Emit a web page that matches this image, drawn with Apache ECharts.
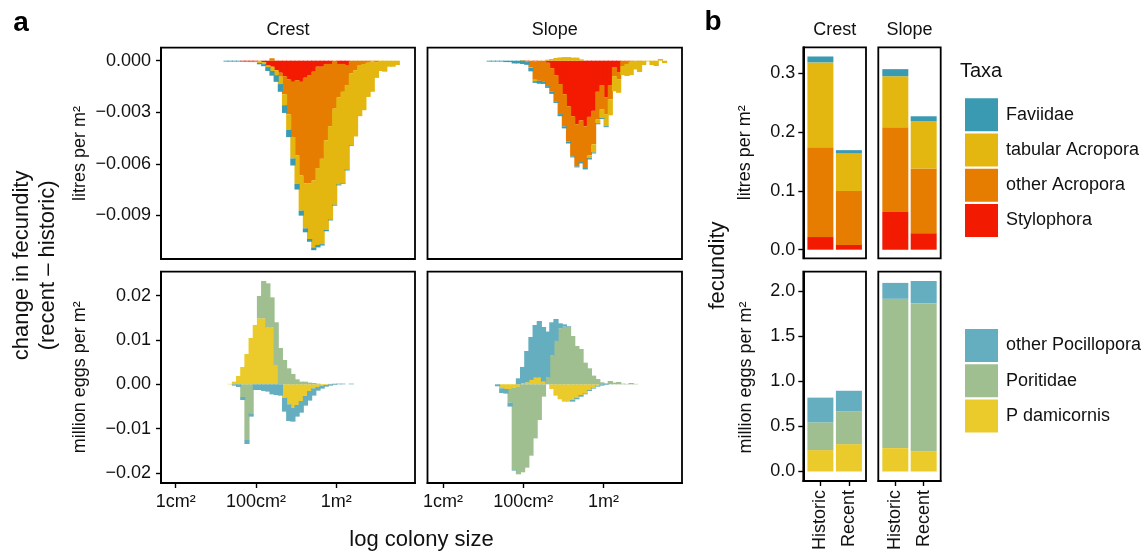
<!DOCTYPE html>
<html><head><meta charset="utf-8">
<script src="https://cdn.jsdelivr.net/npm/echarts@6/dist/echarts.min.js"></script>
<style>html,body{margin:0;padding:0;background:#fff}#c{width:1147px;height:553px}</style>
</head><body><div id="c"></div>
<script>
// ---------- DATA ----------
// size-bin centres (log10 colony area in cm2)
const binCenters = [1.151,1.255,1.359,1.463,1.567,1.671,1.775,1.879,1.983,2.087,2.191,2.295,2.399,2.503,2.607,2.711,2.815,2.919,3.023,3.127,3.231,3.335,3.439,3.543,3.647,3.751,3.855,3.959,4.063,4.167,4.271,4.375,4.479,4.583,4.687,4.791,4.895,4.999,5.103,5.207,5.311,5.415,5.519,5.623];
const sizeTickValues = [0, 2, 4];
const sizeTickLabels = ['1cm²', '100cm²', '1m²'];

// panel a: change in fecundity, litres per m2 - Crest
const crestLitresStylophora = [0,0,0,0,0,-0.00005,-0.00005,-0.00005,-0.00003,0,-0.00008,-0.00025,-0.00035,-0.00055,-0.0007,-0.0009,-0.00109,-0.00123,-0.00113,-0.00123,-0.00099,-0.00084,-0.00064,-0.00035,-0.00035,-0.00019,-0.00019,0,-0.00019,-0.00019,-0.00025,0,0,0,0,0,0,0,0,0,0,0,0,0];
const crestLitresOtherAcropora = [0,0,0,0,0,0,0,-0.00003,-0.00005,-0.00005,0,0,0.00014,0,-0.00023,-0.00105,-0.00203,-0.00321,-0.00438,-0.00545,-0.00614,-0.00629,-0.00633,-0.0059,-0.00536,-0.00444,-0.00362,-0.00279,-0.00195,-0.00162,-0.00117,-0.00074,-0.00055,-0.00025,-0.00019,-0.00012,-0.00004,-0.00008,0,0,0,0,0,0];
const crestLitresTabular = [0,0,0,0,0,0,0,0,0,-0.00008,-0.00012,-0.00012,-0.00025,-0.00029,-0.00043,-0.00064,-0.0009,-0.00125,-0.00166,-0.00205,-0.00263,-0.00325,-0.0039,-0.00448,-0.00497,-0.00522,-0.00543,-0.00559,-0.00506,-0.00532,-0.00491,-0.00419,-0.00386,-0.00298,-0.00269,-0.00199,-0.00177,-0.00092,-0.0006,-0.00064,-0.00035,-0.00035,-0.00025,0];
const crestLitresFaviidae = [0,-0.00005,-0.00005,-0.00005,-0.00005,0,0,0,0,-0.00008,-0.00012,-0.00023,-0.00027,-0.00039,-0.00045,-0.00045,-0.00043,-0.00041,-0.00033,-0.00029,-0.00023,-0.00016,-0.00016,-0.00014,-0.00008,-0.00008,-0.00006,-0.00006,-0.00006,-0.00004,-0.00006,-0.00004,0,0,0,0,0,0,0,0,0,0,0,0];

// panel a: litres per m2 - Slope
const slopeLitresStylophora = [0,0,0,0,0,0,0,0,0,-0.00004,0,-0.00004,0,0,-0.00012,-0.00043,-0.00084,-0.00136,-0.00195,-0.00265,-0.00323,-0.0037,-0.00347,-0.00382,-0.00327,-0.00292,-0.00181,-0.00142,-0.00214,-0.00142,-0.00037,-0.00066,0,0,0,0,0,0,0,0,0,0,0,0];
const slopeLitresOtherAcropora = [0,0,0,0,0,0,0,0,0,-0.00004,-0.00039,-0.00107,-0.00117,-0.00123,-0.00136,-0.00138,-0.00152,-0.00175,-0.00187,-0.00205,-0.00234,-0.00245,-0.00243,-0.00243,-0.00224,-0.00195,-0.0016,-0.0014,-0.00097,-0.00082,-0.00053,-0.00041,-0.00031,-0.00019,-0.00006,0,-0.00006,0,0,0,0,0,0,0];
const slopeLitresTabular = [0,0,0,0,0,0,0,0,0.00004,0,-0.00002,-0.00008,0,0,0.00006,0.0001,0.00016,0.00019,0.00021,0.00021,0.00018,0.00018,0.00008,0,-0.00016,-0.00047,-0.00023,-0.00051,-0.0007,-0.00094,-0.00088,-0.0008,-0.00053,-0.0007,-0.00078,-0.00051,-0.0006,-0.00025,-0.00004,-0.00025,-0.00031,0.0001,-0.00014,0];
const slopeLitresFaviidae = [-0.00005,-0.00005,-0.00005,-0.00005,-0.00008,-0.00008,-0.00016,-0.00016,-0.00019,-0.00016,-0.00021,-0.0001,-0.00017,-0.00012,-0.0001,-0.00012,-0.0001,-0.00012,-0.00012,-0.00012,-0.00006,-0.00006,-0.00008,-0.00008,-0.00008,-0.00006,-0.00006,-0.00006,-0.00006,0,0,0,0,0,0,0,0,0,0,0,0,0,0,0];

// panel a: million eggs per m2 - Crest
const crestEggsPdamicornis = [0,0,0.0001,0.0006,0.00188,0.00391,0.00684,0.01045,0.01338,0.01489,0.01489,0.01278,0.01278,0.00436,0,-0.003,-0.00451,-0.00526,-0.00466,-0.00376,-0.00263,-0.0015,-0.0009,-0.0006,-0.0003,-0.00015,0.0001,0,0,0,0,0,0,0,0,0,0,0,0,0,0,0,0,0];
const crestEggsPoritidae = [0,0,0,0,0,-0.00286,-0.01256,-0.00654,0,0.00504,0.00842,0.01,0.00684,0.00963,0.0082,0.00549,0.00361,0.00233,0.00113,0.0006,0.0006,0.00038,0.0003,0.00015,0,0,0,0.00015,0,0,0,0,0,0,0,0,0,0,0,0,0,0,0,0];
const crestEggsOtherPocillopora = [0,0,0,-0.0003,-0.0006,-0.00068,-0.0009,-0.00075,-0.00128,-0.00128,-0.0015,-0.00165,-0.00226,-0.00241,-0.00256,-0.00316,-0.00376,-0.00316,-0.00263,-0.00263,-0.00218,-0.00218,-0.00165,-0.00083,-0.00068,-0.00038,-0.0003,-0.00015,0.00015,0.00015,0,0.00015,0,0,0,0,0,0,0,0,0,0,0,0];

// panel a: million eggs per m2 - Slope
const slopeEggsPdamicornis = [0,0,0,-0.0009,-0.00105,-0.00105,-0.00075,-0.0006,0.00023,0.00045,0.00098,0.0015,0.0015,0.0006,0,-0.00105,-0.00256,-0.00338,-0.00391,-0.00391,-0.00353,-0.003,-0.00241,-0.00203,-0.00128,-0.00075,-0.0003,0,0,0,0,0,0,0,0,0,0,0,0,0,0,0,0,0];
const slopeEggsPoritidae = [0,0,0,0,0,-0.00308,-0.01857,-0.0197,-0.01985,-0.0188,-0.0161,-0.0122,-0.00805,-0.00278,0.0015,0.00647,0.00978,0.01263,0.013,0.013,0.0109,0.00865,0.00797,0.00489,0.00361,0.00196,0.0012,0.00045,0.00023,0.00075,0.00038,0.00053,0.00015,0.0001,0.0003,0.0001,0,0,0,0,0,0,0,0];
const slopeEggsOtherPocillopora = [0,0,-0.00045,-0.00105,-0.00105,-0.0009,-0.00015,0.00135,0.00369,0.00707,0.0097,0.01188,0.01278,0.01233,0.0104,0.00752,0.00496,0.00113,0.00053,0.00015,-0.00038,-0.00038,-0.00038,-0.00023,-0.00023,-0.00023,-0.00023,-0.0003,-0.00015,0,0,0,0,0,0,0,0,0,0,0,0,0,0,0];

// panel b: totals (Historic, Recent)
const periods = ['Historic', 'Recent'];
const periodPositions = [1, 2];
const crestFecLitresStylophora = [0.0215, 0.008];
const crestFecLitresOtherAcropora = [0.1525, 0.0915];
const crestFecLitresTabular = [0.144, 0.0645];
const crestFecLitresFaviidae = [0.010, 0.005];
const slopeFecLitresStylophora = [0.064, 0.028];
const slopeFecLitresOtherAcropora = [0.144, 0.110];
const slopeFecLitresTabular = [0.0865, 0.080];
const slopeFecLitresFaviidae = [0.012, 0.0085];
const crestFecEggsPdamicornis = [0.237, 0.303];
const crestFecEggsPoritidae = [0.307, 0.361];
const crestFecEggsOtherPocillopora = [0.274, 0.230];
const slopeFecEggsPdamicornis = [0.259, 0.226];
const slopeFecEggsPoritidae = [1.653, 1.635];
const slopeFecEggsOtherPocillopora = [0.176, 0.248];

const litresTicksA = [0, -0.003, -0.006, -0.009];
const eggsTicksA = [0.02, 0.01, 0, -0.01, -0.02];
const litresTicksB = [0, 0.1, 0.2, 0.3];
const eggsTicksB = [0, 0.5, 1, 1.5, 2];

const taxaLitres = ['Faviidae', 'tabular Acropora', 'other Acropora', 'Stylophora'];
const taxaEggs = ['other Pocillopora', 'Poritidae', 'P damicornis'];
const colors = {
  'Faviidae': '#3A9AB2', 'tabular Acropora': '#E3B710', 'other Acropora': '#E67D00', 'Stylophora': '#F21A00',
  'other Pocillopora': '#65AEBF', 'Poritidae': '#9FBF91', 'P damicornis': '#EBCB2B'
};

// ---------- CHART ----------
const FONT = '"Liberation Sans", Arial, Helvetica, sans-serif';
const TXT = '#111';
const minus = s => s.replace('-', '\u2212');

const gridBoxes = [
  {left:161, top:47.7, width:254, height:211.3},
  {left:427.5, top:47.7, width:254.5, height:211.3},
  {left:161, top:271.7, width:254, height:211.3},
  {left:427.5, top:271.7, width:254.5, height:211.3},
  {left:803.3, top:47.3, width:62.7, height:211},
  {left:878.3, top:47.3, width:62.4, height:211},
  {left:803.3, top:271.7, width:62.7, height:211.6},
  {left:878.3, top:271.7, width:62.4, height:211.6}
];
const grid = gridBoxes.map(g => Object.assign({show:true, borderColor:'#000', borderWidth:1.8, containLabel:false}, g));

const lineSt = {color:'#000', width:2};
const tickSt = {color:'#000', width:1.4};
const labSt = {fontSize:18, color:TXT, fontFamily:FONT};

function hiddenAxis(gi, min, max) {
  return {gridIndex:gi, type:'value', min, max, show:false};
}
function sizeAxis(gi, min, max) {
  return {gridIndex:gi, type:'value', min, max,
    axisLine:{show:true, onZero:false, lineStyle:lineSt},
    axisTick:{show:true, length:5, customValues:sizeTickValues, lineStyle:tickSt},
    axisLabel:Object.assign({customValues:sizeTickValues, margin:10,
      formatter: v => sizeTickLabels[sizeTickValues.indexOf(v)] ?? ''}, labSt),
    splitLine:{show:false}};
}
function periodAxis(gi) {
  return {gridIndex:gi, type:'value', min:0.4, max:2.6,
    axisLine:{show:true, onZero:false, lineStyle:lineSt},
    axisTick:{show:true, length:5, customValues:periodPositions, lineStyle:tickSt},
    axisLabel:Object.assign({customValues:periodPositions, margin:9, rotate:90,
      formatter: v => periods[periodPositions.indexOf(v)] ?? ''}, labSt),
    splitLine:{show:false}};
}
function valAxis(gi, min, max, ticks, dec, margin) {
  return {gridIndex:gi, type:'value', min, max,
    axisLine:{show:true, onZero:false, lineStyle:lineSt},
    axisTick:{show:true, length:5, customValues:ticks, lineStyle:tickSt},
    axisLabel:Object.assign({customValues:ticks, margin,
      formatter: v => minus(Number(v).toFixed(dec))}, labSt),
    splitLine:{show:false}};
}

const xAxis = [
  hiddenAxis(0, -0.366, 5.96),
  hiddenAxis(1, -0.386, 5.953),
  sizeAxis(2, -0.366, 5.96),
  sizeAxis(3, -0.386, 5.953),
  hiddenAxis(4, 0.4, 2.6),
  hiddenAxis(5, 0.4, 2.6),
  periodAxis(6),
  periodAxis(7)
];
const yAxis = [
  valAxis(0, -0.011544, 0.000757, litresTicksA, 3, 10),
  hiddenAxis(1, -0.011544, 0.000757),
  valAxis(2, -0.02226, 0.0254, eggsTicksA, 2, 10),
  hiddenAxis(3, -0.02226, 0.0254),
  valAxis(4, -0.0146, 0.3436, litresTicksB, 1, 8),
  hiddenAxis(5, -0.0146, 0.3436),
  valAxis(6, -0.105, 2.212, eggsTicksB, 1, 8),
  hiddenAxis(7, -0.105, 2.212)
];

// data rows are [value, position]; value column is first so that ECharts stacks it (both axes are numeric)
const series = [];
function addBins(gi, parts) {
  parts.forEach(([name, vals]) => {
    series.push({type:'bar', name, xAxisIndex:gi, yAxisIndex:gi, stack:'s' + gi, barWidth:5.2,
      encode:{x:1, y:0},
      itemStyle:{color:colors[name]}, data: binCenters.map((c, i) => [vals[i], c])});
  });
}
function addTotals(gi, parts) {
  parts.forEach(([name, vals]) => {
    series.push({type:'bar', name, xAxisIndex:gi, yAxisIndex:gi, stack:'s' + gi, barWidth:26,
      encode:{x:1, y:0},
      itemStyle:{color:colors[name]}, data: periodPositions.map((p, i) => [vals[i], p])});
  });
}
addBins(0, [['Stylophora', crestLitresStylophora], ['other Acropora', crestLitresOtherAcropora], ['tabular Acropora', crestLitresTabular], ['Faviidae', crestLitresFaviidae]]);
addBins(1, [['Stylophora', slopeLitresStylophora], ['other Acropora', slopeLitresOtherAcropora], ['tabular Acropora', slopeLitresTabular], ['Faviidae', slopeLitresFaviidae]]);
addBins(2, [['P damicornis', crestEggsPdamicornis], ['Poritidae', crestEggsPoritidae], ['other Pocillopora', crestEggsOtherPocillopora]]);
addBins(3, [['P damicornis', slopeEggsPdamicornis], ['Poritidae', slopeEggsPoritidae], ['other Pocillopora', slopeEggsOtherPocillopora]]);
addTotals(4, [['Stylophora', crestFecLitresStylophora], ['other Acropora', crestFecLitresOtherAcropora], ['tabular Acropora', crestFecLitresTabular], ['Faviidae', crestFecLitresFaviidae]]);
addTotals(5, [['Stylophora', slopeFecLitresStylophora], ['other Acropora', slopeFecLitresOtherAcropora], ['tabular Acropora', slopeFecLitresTabular], ['Faviidae', slopeFecLitresFaviidae]]);
addTotals(6, [['P damicornis', crestFecEggsPdamicornis], ['Poritidae', crestFecEggsPoritidae], ['other Pocillopora', crestFecEggsOtherPocillopora]]);
addTotals(7, [['P damicornis', slopeFecEggsPdamicornis], ['Poritidae', slopeFecEggsPoritidae], ['other Pocillopora', slopeFecEggsOtherPocillopora]]);

const legendBase = {orient:'vertical', left:960, itemWidth:33, itemHeight:33, itemGap:2.2, icon:'rect', selectedMode:false,
  textStyle:{fontSize:18, color:TXT, fontFamily:FONT, padding:[0,0,0,3]}};
const legend = [
  Object.assign({top:93.3, data:taxaLitres}, legendBase),
  Object.assign({top:324, data:taxaEggs}, legendBase)
];

function t(x, y, text, size, extra) {
  return Object.assign({type:'text', x, y, silent:true,
    style:Object.assign({text, fill:TXT, fontSize:size, fontFamily:FONT, align:'center', verticalAlign:'middle'}, (extra && extra.style) || {})},
    extra && extra.rotation !== undefined ? {rotation:extra.rotation} : {});
}
const R = Math.PI / 2;
const graphic = [
  t(21, 23, 'a', 28, {style:{fontWeight:'bold', fill:'#000'}}),
  t(713, 22.7, 'b', 28, {style:{fontWeight:'bold', fill:'#000'}}),
  t(288, 30, 'Crest', 18),
  t(554.75, 30, 'Slope', 18),
  t(834.7, 30, 'Crest', 18),
  t(909.5, 30, 'Slope', 18),
  t(960, 71.5, 'Taxa', 20, {style:{align:'left'}}),
  t(80, 153.4, 'litres per m²', 18, {rotation:R}),
  t(80, 377.3, 'million eggs per m²', 18, {rotation:R}),
  t(35, 265.4, 'change in fecundity\n(recent \u2013 historic)', 22, {rotation:R, style:{lineHeight:26}}),
  t(421.5, 540, 'log colony size', 22),
  t(718, 265.5, 'fecundity', 22, {rotation:R}),
  t(745, 152.8, 'litres per m²', 18, {rotation:R}),
  t(746, 377.5, 'million eggs per m²', 18, {rotation:R})
];

const chart = echarts.init(document.getElementById('c'));
chart.setOption({animation:false, backgroundColor:'#fff', grid, xAxis, yAxis, series, legend, graphic});
</script></body></html>
